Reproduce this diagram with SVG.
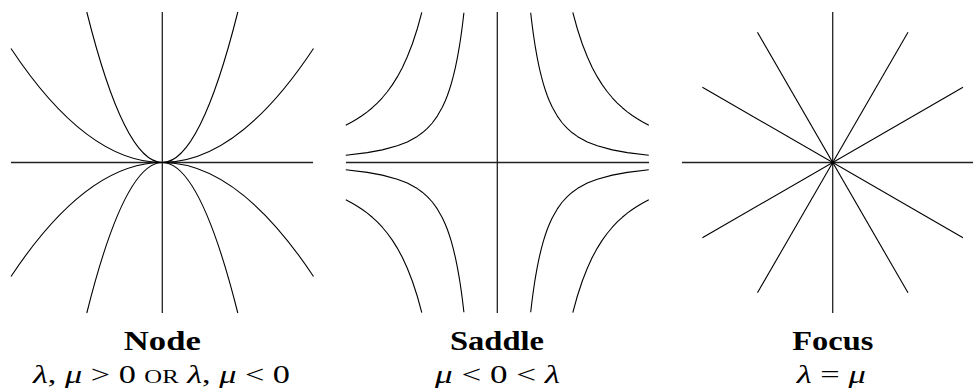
<svg xmlns="http://www.w3.org/2000/svg" xmlns:xlink="http://www.w3.org/1999/xlink" width="973" height="391" viewBox="0 0 973 391">
<style>
.c{fill:none;stroke:#000;stroke-width:1.1;stroke-linejoin:round;stroke-linecap:butt}
.ax{fill:none;stroke:#222;stroke-width:1.3}
.t{font-family:"Liberation Serif","Times New Roman",serif;font-weight:bold;font-size:27px;text-anchor:middle;fill:#000}
.m{font-family:"Liberation Serif","Times New Roman",serif;font-size:25px;text-anchor:middle;fill:#000}
.i{font-style:italic}
.sc{font-size:18px}
</style>
<defs>
<path id="sq" d="M75.5,-150.2 L80,-133.75 L85,-118.48 L90,-105.68 L95,-94.85 L100,-85.6 L105,-77.64 L110,-70.74 L115,-64.73 L120,-59.44 L125,-54.78 L130,-50.65 L135,-46.97 L140,-43.67 L145,-40.71 L151.5,-37.3 M33.4,-149.7 L34,-144.5 L35,-136.3 L36,-128.9 L37,-122.0 L38,-115.7 L40,-104.4 L42,-94.7 L44,-86.3 L46,-78.9 L48,-72.5 L50,-66.8 L52,-61.8 L55,-55.2 L60,-46.4 L65,-39.5 L70,-34.1 L75,-29.7 L80,-26.1 L90,-20.6 L100,-16.7 L115,-12.6 L130,-9.88 L151.5,-7.28"/>
</defs>
<g id="node">
<line class="ax" x1="11" y1="162.5" x2="313" y2="162.5"/>
<line class="ax" x1="162.3" y1="12" x2="162.3" y2="313"/>
<path class="c" d="M86.8,12 Q124.5,162.5 162.3,162.5 Q200,162.5 237.8,12"/>
<path class="c" d="M86.8,313 Q124.5,162.5 162.3,162.5 Q200,162.5 237.8,313"/>
<path class="c" d="M11,48.5 Q86.6,162.5 162.3,162.5 Q238,162.5 313.5,48.5"/>
<path class="c" d="M11,276.5 Q86.6,162.5 162.3,162.5 Q238,162.5 313.5,276.5"/>
<text class="t" x="162.3" y="350" textLength="77" lengthAdjust="spacingAndGlyphs">Node</text>
<text class="m" x="161.5" y="383" textLength="257" lengthAdjust="spacingAndGlyphs"><tspan class="i">λ</tspan>, <tspan class="i">μ</tspan> &gt; 0 <tspan class="sc">OR</tspan> <tspan class="i">λ</tspan>, <tspan class="i">μ</tspan> &lt; 0</text>
</g>
<g id="saddle">
<line class="ax" x1="346" y1="162.5" x2="649" y2="162.5"/>
<line class="ax" x1="497.3" y1="12" x2="497.3" y2="313"/>
<use class="c" xlink:href="#sq" transform="translate(497.3,162.5)"/>
<use class="c" xlink:href="#sq" transform="translate(497.3,162.5) scale(-1,1)"/>
<use class="c" xlink:href="#sq" transform="translate(497.3,162.5) scale(1,-1)"/>
<use class="c" xlink:href="#sq" transform="translate(497.3,162.5) scale(-1,-1)"/>
<text class="t" x="497" y="350" textLength="94" lengthAdjust="spacingAndGlyphs">Saddle</text>
<text class="m" x="497.5" y="383" textLength="125" lengthAdjust="spacingAndGlyphs"><tspan class="i">μ</tspan> &lt; 0 &lt; <tspan class="i">λ</tspan></text>
</g>
<g id="focus">
<line class="ax" x1="682" y1="162.5" x2="973" y2="162.5"/>
<line class="ax" x1="832.7" y1="12" x2="832.7" y2="313"/>
<line class="c" x1="702.4" y1="87.25" x2="963" y2="237.75"/>
<line class="c" x1="757.45" y1="32.2" x2="908" y2="292.8"/>
<line class="c" x1="908" y1="32.2" x2="757.45" y2="292.8"/>
<line class="c" x1="963" y1="87.25" x2="702.4" y2="237.75"/>
<text class="t" x="832.8" y="350" textLength="81" lengthAdjust="spacingAndGlyphs">Focus</text>
<text class="m" x="831.3" y="383" textLength="69" lengthAdjust="spacingAndGlyphs"><tspan class="i">λ</tspan> = <tspan class="i">μ</tspan></text>
</g>
</svg>
